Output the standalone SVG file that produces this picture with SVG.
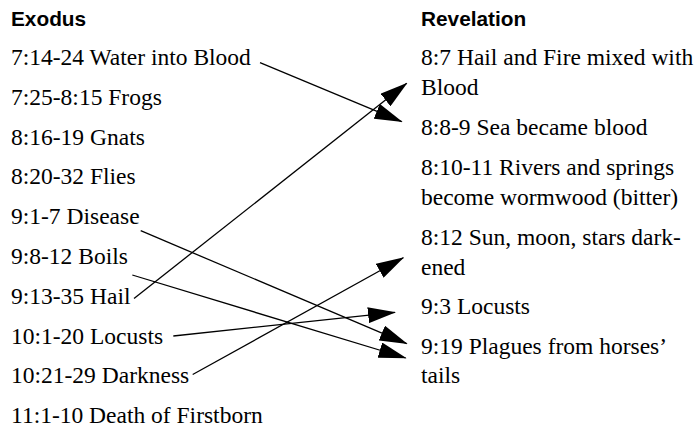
<svg xmlns="http://www.w3.org/2000/svg" width="695" height="429" viewBox="0 0 695 429">
<style>
.t{font-family:'Liberation Serif','Times New Roman',serif;font-size:23.5px;fill:#000}
.h{font-family:'Liberation Sans',Arial,sans-serif;font-size:20.8px;font-weight:bold;fill:#000}
.c line{stroke:#000;stroke-width:1.3;fill:none;marker-end:url(#ah)}
</style>
<defs>
<marker id="ah" markerUnits="userSpaceOnUse" markerWidth="28" markerHeight="16" viewBox="0 0 28 16" refX="27" refY="8" orient="auto"><path d="M0,0 L28,8 L0,16 z" fill="#000"/></marker>
</defs>
<rect width="695" height="429" fill="#fff"/>
<g id="exodus-header"><text class="h" x="11" y="26">Exodus</text></g>
<g id="ex1"><text class="t" x="11" y="65">7:14-24 Water into Blood</text></g>
<g id="ex2"><text class="t" x="11" y="104.8">7:25-8:15 Frogs</text></g>
<g id="ex3"><text class="t" x="11" y="144.6">8:16-19 Gnats</text></g>
<g id="ex4"><text class="t" x="11" y="184.4">8:20-32 Flies</text></g>
<g id="ex5"><text class="t" x="11" y="224.2">9:1-7 Disease</text></g>
<g id="ex6"><text class="t" x="11" y="264">9:8-12 Boils</text></g>
<g id="ex7"><text class="t" x="11" y="303.8">9:13-35 Hail</text></g>
<g id="ex8"><text class="t" x="11" y="343.6">10:1-20 Locusts</text></g>
<g id="ex9"><text class="t" x="11" y="383.4">10:21-29 Darkness</text></g>
<g id="ex10"><text class="t" x="11" y="423.2">11:1-10 Death of Firstborn</text></g>
<g id="revelation-header"><text class="h" x="421" y="26">Revelation</text></g>
<g id="rv1"><text class="t" x="421" y="65">8:7 Hail and Fire mixed with</text><text class="t" x="421" y="94.7">Blood</text></g>
<g id="rv2"><text class="t" x="421" y="135">8:8-9 Sea became blood</text></g>
<g id="rv3"><text class="t" x="421" y="175">8:10-11 Rivers and springs</text><text class="t" x="421" y="204.7">become wormwood (bitter)</text></g>
<g id="rv4"><text class="t" x="421" y="245">8:12 Sun, moon, stars dark-</text><text class="t" x="421" y="274.5">ened</text></g>
<g id="rv5"><text class="t" x="421" y="314">9:3 Locusts</text></g>
<g id="rv6"><text class="t" x="421" y="353.7">9:19 Plagues from horses’</text><text class="t" x="421" y="383.3">tails</text></g>
<g id="connectors" class="c">
<line x1="260" y1="62.7" x2="401.7" y2="121.7"/>
<line x1="134" y1="298.5" x2="406.7" y2="83.3"/>
<line x1="140.7" y1="230.7" x2="406.7" y2="343.6"/>
<line x1="132.3" y1="275" x2="405.7" y2="358"/>
<line x1="173.3" y1="336" x2="395" y2="312.3"/>
<line x1="192.7" y1="374.5" x2="403.3" y2="257.7"/>
</g>
</svg>
